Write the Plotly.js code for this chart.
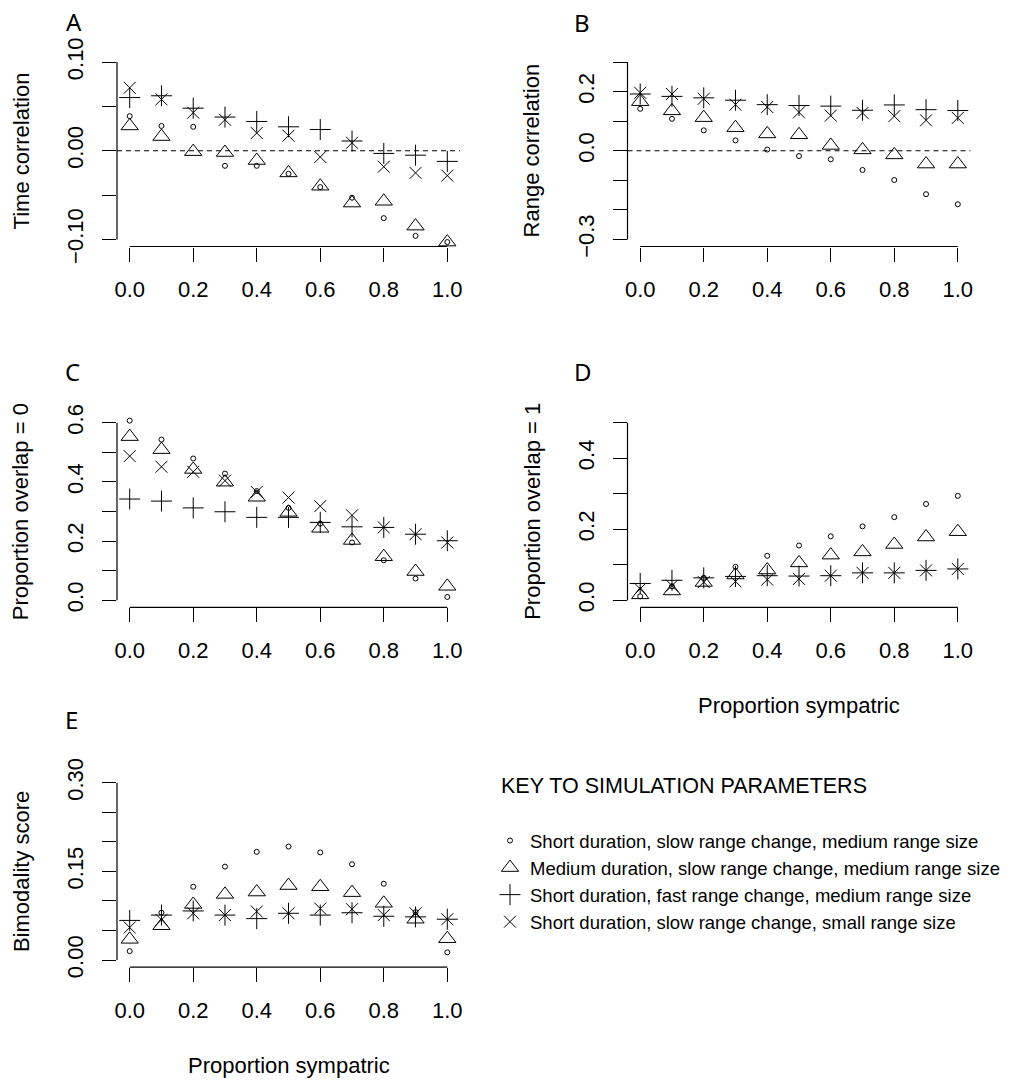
<!DOCTYPE html>
<html><head><meta charset="utf-8">
<script src="https://cdn.plot.ly/plotly-3.0.1.min.js"></script>
<style>html,body{margin:0;padding:0;background:#fff}#chart{width:1025px;height:1080px}</style>
</head><body><div id="chart"></div>
<script>
// ---------------- DATA ----------------
const proportionSympatric = [0.0, 0.1, 0.2, 0.3, 0.4, 0.5, 0.6, 0.7, 0.8, 0.9, 1.0];
const seriesNames = [
  "Short duration, slow range change, medium range size",
  "Medium duration, slow range change, medium range size",
  "Short duration, fast range change, medium range size",
  "Short duration, slow range change, small range size"
];
const panelLetters = ["A", "B", "C", "D", "E"];
const yTitles = ["Time correlation", "Range correlation", "Proportion overlap = 0", "Proportion overlap = 1", "Bimodality score"];
const xTitle = "Proportion sympatric";
const xTickVals = [0.0, 0.2, 0.4, 0.6, 0.8, 1.0];
const xTickText = ["0.0", "0.2", "0.4", "0.6", "0.8", "1.0"];

// Panel A: Time correlation
const timeCircle   = [0.039, 0.028, 0.027, -0.017, -0.017, -0.026, -0.041, -0.053, -0.076, -0.096, -0.103];
const timeTriangle = [0.028, 0.016, -0.001, -0.002, -0.011, -0.025, -0.040, -0.059, -0.057, -0.085, -0.103];
const timePlus     = [0.060, 0.062, 0.048, 0.038, 0.033, 0.027, 0.024, 0.011, -0.003, -0.005, -0.012];
const timeX        = [0.071, 0.058, 0.043, 0.035, 0.020, 0.017, -0.007, 0.009, -0.018, -0.025, -0.028];
const timeTickVals = [-0.10, -0.05, 0.00, 0.05, 0.10];
const timeTickText = ["\u22120.10", "", "0.00", "", "0.10"];

// Panel B: Range correlation
const rangeCircle   = [0.142, 0.108, 0.069, 0.035, 0.004, -0.018, -0.029, -0.065, -0.099, -0.147, -0.181];
const rangeTriangle = [0.166, 0.135, 0.112, 0.078, 0.057, 0.054, 0.018, 0.003, -0.014, -0.045, -0.045];
const rangePlus     = [0.192, 0.184, 0.179, 0.171, 0.156, 0.153, 0.151, 0.137, 0.155, 0.139, 0.136];
const rangeX        = [0.196, 0.192, 0.176, 0.156, 0.148, 0.130, 0.119, 0.128, 0.117, 0.103, 0.111];
const rangeTickVals = [-0.3, -0.2, -0.1, 0.0, 0.1, 0.2, 0.3];
const rangeTickText = ["\u22120.3", "", "", "0.0", "", "0.2", ""];

// Panel C: Proportion overlap = 0
const overlap0Circle   = [0.607, 0.543, 0.479, 0.428, 0.369, 0.312, 0.259, 0.195, 0.135, 0.073, 0.011];
const overlap0Triangle = [0.553, 0.509, 0.442, 0.399, 0.348, 0.297, 0.243, 0.202, 0.147, 0.097, 0.047];
const overlap0Plus     = [0.342, 0.335, 0.312, 0.299, 0.280, 0.280, 0.263, 0.248, 0.246, 0.223, 0.201];
const overlap0X        = [0.487, 0.451, 0.434, 0.404, 0.366, 0.347, 0.318, 0.287, 0.246, 0.223, 0.195];
const overlap0TickVals = [0.0, 0.1, 0.2, 0.3, 0.4, 0.5, 0.6];
const overlap0TickText = ["0.0", "", "0.2", "", "0.4", "", "0.6"];

// Panel D: Proportion overlap = 1
const overlap1Circle   = [0.011, 0.039, 0.063, 0.094, 0.125, 0.154, 0.180, 0.208, 0.234, 0.271, 0.294];
const overlap1Triangle = [0.015, 0.026, 0.050, 0.071, 0.085, 0.105, 0.127, 0.136, 0.157, 0.178, 0.193];
const overlap1Plus     = [0.047, 0.056, 0.063, 0.067, 0.069, 0.068, 0.069, 0.077, 0.077, 0.084, 0.088];
const overlap1X        = [0.032, 0.041, 0.051, 0.053, 0.058, 0.060, 0.069, 0.077, 0.077, 0.084, 0.088];
const overlap1TickVals = [0.0, 0.1, 0.2, 0.3, 0.4, 0.5];
const overlap1TickText = ["0.0", "", "0.2", "", "0.4", ""];

// Panel E: Bimodality score
const bimodCircle   = [0.015, 0.080, 0.124, 0.158, 0.183, 0.192, 0.182, 0.162, 0.129, 0.081, 0.013];
const bimodTriangle = [0.035, 0.058, 0.094, 0.111, 0.115, 0.126, 0.124, 0.114, 0.096, 0.069, 0.036];
const bimodPlus     = [0.067, 0.076, 0.083, 0.076, 0.070, 0.079, 0.076, 0.080, 0.074, 0.073, 0.069];
const bimodX        = [0.055, 0.068, 0.079, 0.076, 0.082, 0.079, 0.087, 0.086, 0.076, 0.079, 0.069];
const bimodTickVals = [0.00, 0.05, 0.10, 0.15, 0.20, 0.25, 0.30];
const bimodTickText = ["0.00", "", "", "0.15", "", "", "0.30"];

const legendTitle = "KEY TO SIMULATION PARAMETERS";

// ---------------- LAYOUT / STYLE ----------------
const W = 1025, H = 1080;
const FONT = "'Liberation Sans', Arial, Helvetica, sans-serif";
const px = v => v / W;
const py = v => 1 - v / H;

const cols = [[117, 460], [627.5, 970.5]];
const rows = [[55, 246.5], [415.6, 607.3], [775.6, 967.1]];
const panelGrid = [[0, 0], [1, 0], [0, 1], [1, 1], [0, 2]];

const markerStyles = [
  {symbol: "circle-open", size: 5},
  {symbol: "triangle-up-open", size: 15},
  {symbol: "cross-thin-open", size: 15},
  {symbol: "x-thin-open", size: 12}
];

const panels = [
  {series: [timeCircle, timeTriangle, timePlus, timeX], tv: timeTickVals, tt: timeTickText, dash: true},
  {series: [rangeCircle, rangeTriangle, rangePlus, rangeX], tv: rangeTickVals, tt: rangeTickText, dash: true},
  {series: [overlap0Circle, overlap0Triangle, overlap0Plus, overlap0X], tv: overlap0TickVals, tt: overlap0TickText, dash: false},
  {series: [overlap1Circle, overlap1Triangle, overlap1Plus, overlap1X], tv: overlap1TickVals, tt: overlap1TickText, dash: false},
  {series: [bimodCircle, bimodTriangle, bimodPlus, bimodX], tv: bimodTickVals, tt: bimodTickText, dash: false}
];

const traces = [];
const layout = {
  width: W, height: H,
  margin: {l: 0, r: 0, t: 0, b: 0},
  paper_bgcolor: "#fff", plot_bgcolor: "#fff",
  font: {family: FONT, size: 22, color: "#000"},
  showlegend: true,
  legend: {
    x: px(490), y: py(822), xanchor: "left", yanchor: "top",
    font: {family: FONT, size: 18.5, color: "#000"},
    bgcolor: "rgba(0,0,0,0)", borderwidth: 0, itemclick: false, itemdoubleclick: false
  },
  shapes: [], annotations: []
};

panels.forEach((p, i) => {
  const n = i === 0 ? "" : String(i + 1);
  const [c, r] = panelGrid[i];
  const xd = [px(cols[c][0]), px(cols[c][1])];
  const yd = [py(rows[r][1]), py(rows[r][0])];
  const ymin = Math.min(...p.tv), ymax = Math.max(...p.tv);
  const ext = (ymax - ymin) * 0.04;

  layout["xaxis" + n] = {
    domain: xd, anchor: "y" + n, range: [-0.04, 1.04],
    tickvals: xTickVals, ticktext: xTickText, ticks: "outside", ticklen: 14,
    tickwidth: 1, tickcolor: "#000", showline: false, showgrid: false, zeroline: false,
    ticklabelstandoff: 9, tickfont: {family: FONT, size: 22, color: "#000"}, fixedrange: true
  };
  layout["yaxis" + n] = {
    domain: yd, anchor: "x" + n, range: [ymin - ext, ymax + ext],
    tickvals: p.tv, ticktext: p.tt, ticks: "outside", ticklen: 14, tickangle: -90,
    tickwidth: 1, tickcolor: "#000", showline: false, showgrid: false, zeroline: false,
    ticklabelstandoff: 10, tickfont: {family: FONT, size: 22, color: "#000"}, fixedrange: true
  };

  p.series.forEach((vals, k) => {
    traces.push({
      type: "scatter", mode: "markers", x: proportionSympatric, y: vals,
      xaxis: "x" + n, yaxis: "y" + n, name: seriesNames[k],
      showlegend: i === 0, cliponaxis: false, hoverinfo: "skip",
      marker: {symbol: markerStyles[k].symbol, size: markerStyles[k].size, color: "#000",
               line: {color: "#000", width: 1}}
    });
  });

  // R-style detached axis lines spanning first..last tick
  layout.shapes.push({type: "line", xref: "paper", yref: "y" + n, x0: xd[0], x1: xd[0], y0: ymin, y1: ymax,
                      line: {color: "#000", width: 1.2}});
  layout.shapes.push({type: "line", xref: "x" + n, yref: "paper", x0: xTickVals[0], x1: xTickVals[xTickVals.length - 1],
                      y0: yd[0], y1: yd[0], line: {color: "#000", width: 1.2}});
  if (p.dash) {
    layout.shapes.push({type: "line", xref: "paper", yref: "y" + n, x0: xd[0], x1: xd[1], y0: 0, y1: 0,
                        line: {color: "#000", width: 1, dash: "5px,4px"}});
  }
});

const letterPos = [[74, 21], [582, 22], [72.5, 371], [583, 371], [71.5, 719]];
panelLetters.forEach((t, i) => {
  layout.annotations.push({text: t, xref: "paper", yref: "paper", x: px(letterPos[i][0]), y: py(letterPos[i][1]),
    xanchor: "center", yanchor: "middle", showarrow: false, font: {family: "Noto Sans, sans-serif", size: 24, color: "#000"}});
});

const yTitlePos = [[21.7, 150.75], [531.7, 150.75], [20.7, 511.5], [532.3, 511.5], [21.7, 871.4]];
yTitles.forEach((t, i) => {
  layout.annotations.push({text: t, xref: "paper", yref: "paper", x: px(yTitlePos[i][0]), y: py(yTitlePos[i][1]),
    xanchor: "center", yanchor: "middle", textangle: -90, showarrow: false, font: {family: FONT, size: 22, color: "#000"}});
});

[[799, 705], [288.5, 1065]].forEach(pos => {
  layout.annotations.push({text: xTitle, xref: "paper", yref: "paper", x: px(pos[0]), y: py(pos[1]),
    xanchor: "center", yanchor: "middle", showarrow: false, font: {family: FONT, size: 22, color: "#000"}});
});

layout.annotations.push({text: legendTitle, xref: "paper", yref: "paper", x: px(499), y: py(786),
  xanchor: "left", yanchor: "middle", showarrow: false, font: {family: FONT, size: 21.5, color: "#000"}});

Plotly.newPlot("chart", traces, layout, {displayModeBar: false, staticPlot: true});
</script>
</body></html>
